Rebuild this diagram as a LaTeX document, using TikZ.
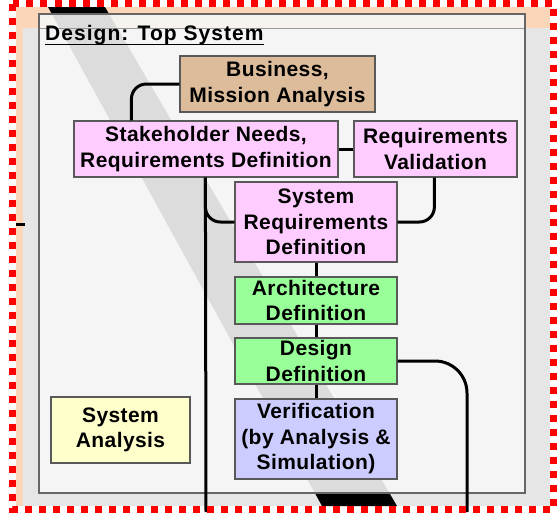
\documentclass[tikz,border=0pt]{standalone}
\usepackage{fontspec}
\setmainfont{Liberation Sans}
\begin{document}
\begin{tikzpicture}[x=1pt,y=-1pt,
  box/.style={draw=black!65, line width=1.2pt, align=center, inner sep=0pt,
    font=\fontsize{21}{25.5}\selectfont\bfseries\addfontfeatures{LetterSpace=2}},
  conn/.style={line width=3pt, black},
]
\definecolor{peach}{HTML}{FCD6B8}
\definecolor{framegray}{HTML}{E6E6E6}
\definecolor{panel}{HTML}{F5F5F5}
\definecolor{titlestrip}{HTML}{F7F3EF}
\definecolor{band}{HTML}{DCDCDC}
\definecolor{tan}{HTML}{DCBC9B}
\definecolor{pinkbox}{HTML}{FFCCFF}
\definecolor{greenbox}{HTML}{99FF99}
\definecolor{lavbox}{HTML}{CCCCFF}
\definecolor{yelbox}{HTML}{FFFFCC}
\useasboundingbox (0,0) rectangle (557,512);
% backgrounds
\fill[peach] (16,7) rectangle (550,506);
\fill[framegray] (23,28) rectangle (550,506);
\fill[black] (48,7) -- (105,7) -- (397,506) -- (322,506) -- cycle;
\fill[panel] (39,14) rectangle (525,493);
\fill[titlestrip] (39,14) rectangle (525,28);
\begin{scope}
  \clip (39,14) rectangle (525,493);
  \fill[band] (48,7) -- (105,7) -- (397,506) -- (322,506) -- cycle;
\end{scope}
\draw[black!40, line width=0.6pt] (39,28) -- (525,28);
\draw[black!60, line width=1.2pt] (39,14) rectangle (525,493);
% title
\node[anchor=base west, inner sep=0pt, font=\fontsize{21}{25}\selectfont\bfseries\addfontfeatures{LetterSpace=5}] (title) at (45,40) {Design: Top System};
\draw[line width=1.8pt] ([yshift=-4.5pt]title.base west) -- ([yshift=-4.5pt]title.base east);
% boxes
\node[box, fill=tan, minimum width=195pt, minimum height=56pt] (bma) at (277.5,84) {Business,\\Mission Analysis};
\node[box, fill=pinkbox, minimum width=264pt, minimum height=56pt] (sn) at (206,149) {Stakeholder Needs,\\Requirements Definition};
\node[box, fill=pinkbox, minimum width=163pt, minimum height=56pt] (rv) at (435.5,149) {Requirements\\Validation};
\node[box, fill=pinkbox, minimum width=162pt, minimum height=80pt] (srd) at (316,222) {System\\Requirements\\Definition};
\node[box, fill=greenbox, minimum width=162pt, minimum height=47pt] (ad) at (316,300.5) {Architecture\\Definition};
\node[box, fill=greenbox, minimum width=162pt, minimum height=46pt] (dd) at (316,361) {Design\\Definition};
\node[box, fill=lavbox, minimum width=162pt, minimum height=80pt] (ver) at (316,439) {Verification\\(by Analysis \&\\Simulation)};
\node[box, fill=yelbox, minimum width=139pt, minimum height=66pt] (sa) at (120.5,430) {System\\Analysis};
% connectors
\coordinate (bot1) at (206,512);
\coordinate (bot2) at (467,512);
\coordinate (tickA) at (16,224);
\coordinate (tickB) at (25,224);
\draw[conn, rounded corners=15pt] (bma.west) -| ([xshift=58pt]sn.north west);
\draw[conn] (sn.east) -- (rv.west);
\draw[conn, rounded corners=15pt] ([xshift=81pt]rv.south west) |- (srd.east);
\draw[conn] ([xshift=132pt]sn.south west) -- (bot1);
\draw[conn, rounded corners=15pt] ([xshift=132pt]sn.south west) |- (srd.west);
\draw[conn] (srd.south) -- (ad.north);
\draw[conn] (ad.south) -- (dd.north);
\draw[conn] (dd.south) -- (ver.north);
\draw[conn, rounded corners=32pt] (dd.east) -| (bot2);
\draw[conn] (tickA) -- (tickB);
% red border
\draw[red, line width=7pt, dash pattern=on 7pt off 7pt] (12.5,3.5) rectangle (553.5,509);
\end{tikzpicture}
\end{document}
